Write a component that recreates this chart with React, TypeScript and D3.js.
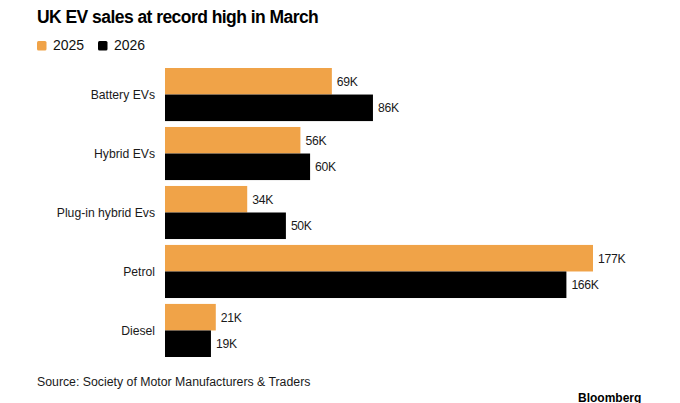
import React from 'react';
import * as d3 from 'd3';

const categories = ['Battery EVs', 'Hybrid EVs', 'Plug-in hybrid Evs', 'Petrol', 'Diesel'];
const years = ['2025', '2026'];
const sales2025 = [69, 56, 34, 177, 21];
const sales2026 = [86, 60, 50, 166, 19];
const colors = ['#F0A348', '#000000'];

const W = 680;
const H = 403;
const font = '"Liberation Sans", Arial, sans-serif';

export default function App() {
  const y = d3.scaleBand<string>().domain(categories).range([68, 357]).paddingInner(0.1).paddingOuter(0);
  const sub = d3.scaleBand<string>().domain(years).range([0, y.bandwidth()]);
  const x = d3.scaleLinear().domain([0, 177]).range([165, 593]);
  const series = [sales2025, sales2026];

  return (
    <div style={{ position: 'absolute', left: 0, top: 0 }}>
      <svg width={W} height={H} style={{ display: 'block', background: '#fff' }} fontFamily={font}>
        <text x={37} y={23} fontSize={17.5} fontWeight="bold" letterSpacing={-0.55} fill="#000">
          UK EV sales at record high in March
        </text>
        {years.map((yr, i) => (
          <g key={yr} transform={`translate(${37 + i * 61},41)`}>
            <rect x={0} y={0} width={9.5} height={9.5} rx={1.5} fill={colors[i]} />
            <text x={16} y={9} fontSize={14} fill="#111">{yr}</text>
          </g>
        ))}
        {categories.map((c, ci) => (
          <g key={c} transform={`translate(0,${y(c)})`}>
            <text x={155} y={y.bandwidth() / 2 + 4.5} fontSize={12.2} textAnchor="end" fill="#1a1a1a">
              {c}
            </text>
            {years.map((yr, i) => {
              const v = series[i][ci];
              return (
                <g key={yr}>
                  <rect x={x(0)} y={sub(yr)} width={x(v) - x(0)} height={sub.bandwidth()} fill={colors[i]} />
                  <text x={x(v) + 5} y={(sub(yr) ?? 0) + sub.bandwidth() / 2 + 4.5} fontSize={12.2} letterSpacing={-0.3} fill="#1a1a1a">
                    {v}K
                  </text>
                </g>
              );
            })}
          </g>
        ))}
        <text x={37} y={386} fontSize={12.3} fill="#1a1a1a">
          Source: Society of Motor Manufacturers &amp; Traders
        </text>
        <text x={578} y={401.5} fontSize={12} fontWeight="bold" fill="#000">
          Bloomberg
        </text>
      </svg>
    </div>
  );
}
